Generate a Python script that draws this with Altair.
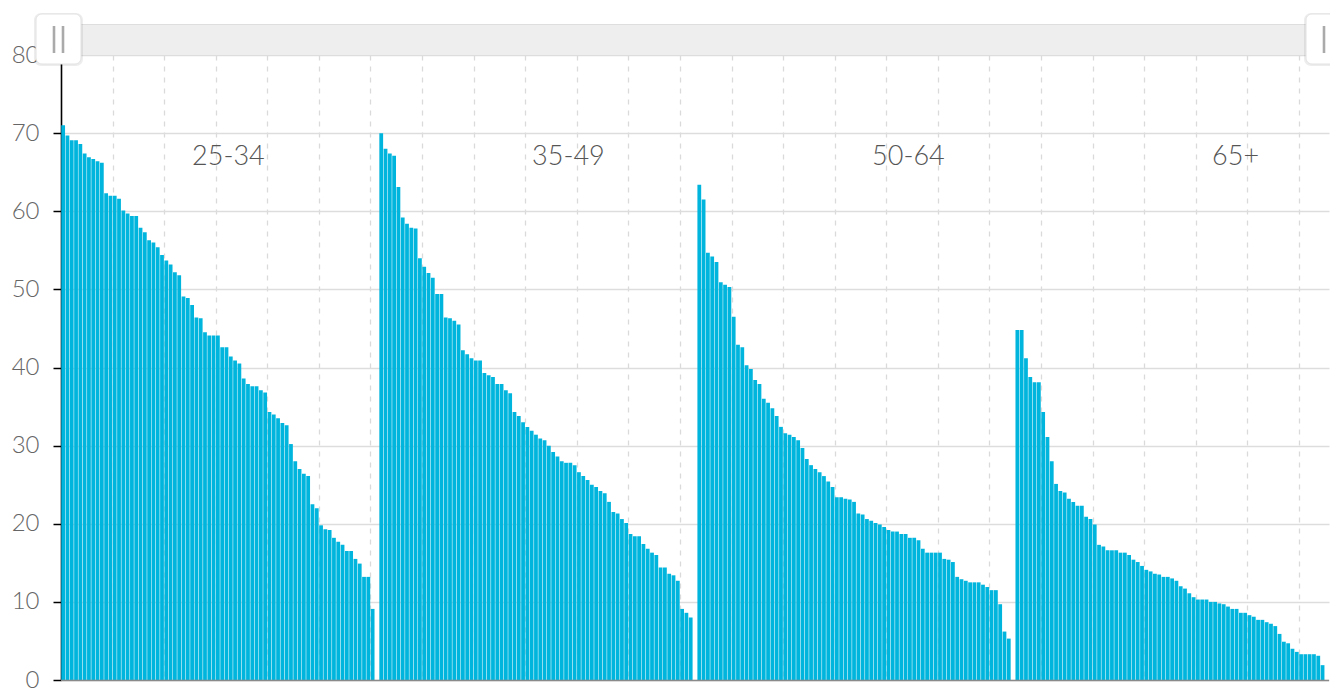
import altair as alt
import pandas as pd

groups = ["25-34", "35-49", "50-64", "65+"]

g1 = [71.0, 69.7, 69.1, 69.1, 68.6, 67.4, 66.9, 66.7, 66.4, 66.2,
      62.3, 62.0, 62.0, 61.6, 60.1, 59.7, 59.4, 59.4, 57.9, 57.3,
      56.3, 56.0, 55.4, 54.4, 53.7, 53.2, 52.2, 51.8, 49.1, 48.9,
      48.0, 46.4, 46.3, 44.5, 44.1, 44.1, 44.1, 42.6, 42.6, 41.4,
      40.9, 40.5, 38.6, 37.9, 37.6, 37.6, 37.1, 36.8, 34.3, 34.0,
      33.5, 32.9, 32.6, 30.2, 28.0, 27.0, 26.4, 26.1, 22.5, 22.0,
      19.8, 19.3, 19.2, 18.2, 17.7, 17.3, 16.5, 16.5, 15.5, 14.9,
      13.2, 13.2, 9.1]

g2 = [70.0, 68.0, 67.4, 67.1, 63.1, 59.2, 58.4, 57.9, 57.8, 54.0,
      52.9, 52.1, 51.5, 49.4, 49.4, 46.4, 46.3, 46.0, 45.5, 42.2,
      41.7, 41.2, 40.9, 40.9, 39.3, 39.0, 38.8, 37.9, 37.9, 37.1,
      36.7, 34.3, 33.8, 33.0, 32.4, 31.9, 31.4, 30.9, 30.7, 30.0,
      29.2, 28.6, 28.0, 27.8, 27.8, 27.5, 26.6, 26.1, 25.6, 25.0,
      24.7, 24.2, 23.9, 22.8, 21.5, 21.3, 20.6, 20.1, 18.7, 18.4,
      18.4, 17.4, 16.8, 16.3, 16.0, 14.4, 14.4, 13.6, 13.4, 12.7,
      9.1, 8.6, 8.0]

g3 = [63.4, 61.5, 54.7, 54.2, 53.5, 50.9, 50.6, 50.3, 46.5, 42.9,
      42.6, 40.3, 39.8, 38.4, 37.9, 36.0, 35.5, 34.8, 33.8, 32.4,
      31.6, 31.4, 31.1, 30.7, 29.7, 28.3, 27.5, 27.0, 26.6, 26.1,
      25.4, 24.7, 23.4, 23.4, 23.2, 23.1, 22.8, 21.3, 21.2, 20.6,
      20.4, 20.1, 19.9, 19.6, 19.2, 19.0, 19.0, 18.7, 18.7, 18.2,
      18.2, 17.9, 16.8, 16.3, 16.3, 16.3, 16.3, 15.5, 15.4, 15.1,
      13.2, 12.9, 12.7, 12.5, 12.5, 12.5, 12.2, 11.9, 11.5, 11.5,
      9.7, 6.2, 5.3]

g4 = [44.8, 44.8, 41.2, 38.8, 38.1, 38.1, 34.3, 31.1, 28.0, 25.1,
      24.2, 24.0, 23.2, 22.8, 22.3, 22.3, 20.9, 20.6, 19.9, 17.3,
      17.1, 16.6, 16.6, 16.6, 16.3, 16.3, 16.0, 15.4, 15.1, 14.6,
      14.1, 13.9, 13.6, 13.5, 13.2, 13.2, 13.0, 12.7, 12.0, 11.7,
      11.1, 10.6, 10.3, 10.3, 10.3, 10.0, 10.0, 9.8, 9.7, 9.4,
      9.1, 9.1, 8.6, 8.6, 8.3, 8.1, 7.7, 7.7, 7.4, 7.2,
      6.9, 5.9, 4.9, 4.7, 4.0, 3.6, 3.3, 3.3, 3.3, 3.3,
      3.1, 1.9]

series = [g1, g2, g3, g4]
y_ticks = [0, 10, 20, 30, 40, 50, 60, 70, 80]

# category slots: each group takes 74 slots (73 bars + one blank separator)
SLOTS_PER_GROUP = 74
TOTAL_SLOTS = 295

rows = []
for gi, vals in enumerate(series):
    for j, v in enumerate(vals):
        rows.append({"group": groups[gi], "slot": gi * SLOTS_PER_GROUP + j, "value": v})
df = pd.DataFrame(rows)

lab = pd.DataFrame({"label": groups, "gi": list(range(len(groups)))})

W, H = 1268, 625
FONT = "Lato"

x_scale = alt.Scale(domain=[0, TOTAL_SLOTS], nice=False, zero=False)
y_scale = alt.Scale(domain=[0, 80], nice=False)

bars = alt.Chart(df).transform_calculate(
    x0="datum.slot + 0.06", x1="datum.slot + 0.94", base="0"
).mark_bar(color="#00B5DD").encode(
    x=alt.X("x0:Q", scale=x_scale,
            axis=alt.Axis(values=list(range(12, TOTAL_SLOTS, 12)), grid=True,
                          gridDash=[5, 6], gridColor="#DADADA", gridWidth=1.3,
                          labels=False, ticks=False, domain=False, title=None)),
    x2="x1:Q",
    y=alt.Y("value:Q", scale=y_scale,
            axis=alt.Axis(values=y_ticks, grid=True, gridColor="#DDDDDD", gridWidth=1.3,
                          domainColor="#000000", domainWidth=1.6,
                          tickColor="#000000", tickSize=8, tickWidth=1.5,
                          labelFont=FONT, labelFontSize=24, labelFontWeight=300,
                          labelColor="#666666", labelPadding=14, labelFlush=False,
                          title=None)),
    y2="base:Q",
    tooltip=["group:N", "value:Q"],
)

texts = alt.Chart(lab).transform_calculate(
    tx="30.5 + 79.1 * datum.gi", ty="67"
).mark_text(align="left", baseline="middle", font=FONT, fontSize=27,
            fontWeight=300, color="#555555").encode(
    x=alt.X("tx:Q", scale=x_scale),
    y=alt.Y("ty:Q", scale=y_scale),
    text="label:N",
)

one = pd.DataFrame({"k": [0]})
base = alt.Chart(one)

bottom_line = base.mark_rule(color="#8A8A8A", strokeWidth=1.5).encode(
    x=alt.value(0), x2=alt.value(W), y=alt.value(H + 0.5))

band = base.mark_rect(fill="#EEEEEE").encode(
    x=alt.value(-2), x2=alt.value(W - 10), y=alt.value(-31), y2=alt.value(0))
band_top = base.mark_rule(color="#DEDEDE", strokeWidth=1).encode(
    x=alt.value(-2), x2=alt.value(W - 10), y=alt.value(-30.5))

def handle(x_left):
    shadow = base.mark_rect(fill="#000000", opacity=0.07, cornerRadius=7).encode(
        x=alt.value(x_left - 2), x2=alt.value(x_left + 47),
        y=alt.value(-42), y2=alt.value(11))
    body = base.mark_rect(fill="#FFFFFF", stroke="#E2E2E2", strokeWidth=1,
                          cornerRadius=6).encode(
        x=alt.value(x_left), x2=alt.value(x_left + 45),
        y=alt.value(-41), y2=alt.value(9))
    bar_a = base.mark_rule(color="#AAAAAA", strokeWidth=2.6).encode(
        x=alt.value(x_left + 18), y=alt.value(-29), y2=alt.value(-2))
    bar_b = base.mark_rule(color="#AAAAAA", strokeWidth=2.6).encode(
        x=alt.value(x_left + 27), y=alt.value(-29), y2=alt.value(-2))
    return [shadow, body, bar_a, bar_b]

layers = [band, band_top, bars, bottom_line, texts] + handle(-25) + handle(W - 23)

chart = alt.layer(*layers).properties(
    width=W, height=H,
    autosize=alt.AutoSizeParams(type="none"),
    padding={"left": 53, "top": 47, "right": 1, "bottom": 10},
).configure_view(strokeWidth=0)

chart.save("out.html", embed_options={"renderer": "svg", "actions": False})
